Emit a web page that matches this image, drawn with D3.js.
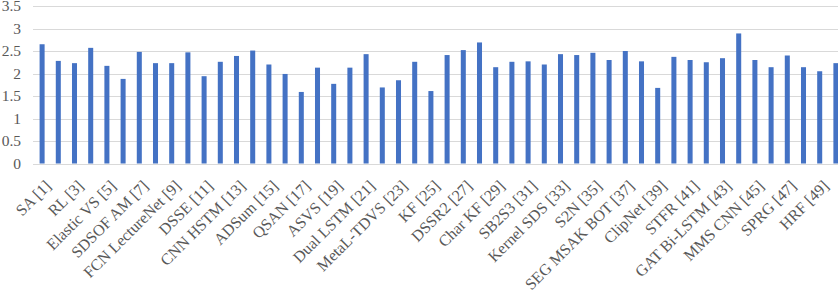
<!DOCTYPE html>
<html>
<head>
<meta charset="utf-8">
<script src="https://cdn.jsdelivr.net/npm/d3@7"></script>
<style>
  body { margin: 0; background: #fff; }
  svg { display: block; font-family: 'Liberation Serif', 'Times New Roman', serif; }
</style>
</head>
<body>
<svg id="chart" width="838" height="292"></svg>
<script>
// tick labels, one for every other method (odd reference numbers)
const labels = [
  'SA [1]', 'RL [3]', 'Elastic VS [5]', 'SDSOF AM [7]', 'FCN LectureNet [9]',
  'DSSE [11]', 'CNN HSTM [13]', 'ADSum [15]', 'QSAN [17]', 'ASVS [19]',
  'Dual LSTM [21]', 'MetaL-TDVS [23]', 'KF [25]', 'DSSR2 [27]', 'Char KF [29]',
  'SB2S3 [31]', 'Kernel SDS [33]', 'S2N [35]', 'SEG MSAK BOT [37]', 'ClipNet [39]',
  'STFR [41]', 'GAT Bi-LSTM [43]', 'MMS CNN [45]', 'SPRG [47]', 'HRF [49]'
]

// one value per method [1]..[50]
const values = [
  2.65, 2.28, 2.23, 2.57, 2.17, 1.88, 2.48, 2.23, 2.23, 2.47,
  1.94, 2.26, 2.39, 2.51, 2.20, 1.99, 1.59, 2.13, 1.77, 2.13,
  2.43, 1.69, 1.85, 2.26, 1.61, 2.41, 2.52, 2.69, 2.14, 2.26,
  2.27, 2.20, 2.43, 2.41, 2.46, 2.30, 2.50, 2.27, 1.68, 2.37,
  2.30, 2.25, 2.34, 2.89, 2.30, 2.14, 2.40, 2.14, 2.05, 2.23
]

const yTicks = [0, 0.5, 1, 1.5, 2, 2.5, 3, 3.5]

const svg = d3.select('#chart')
const plotLeft = 33
const plotTop = 6
const plotBottom = 163.5

let x = d3.scaleBand()
  .domain(values.map((d, i) => i))
  .range([34, 844])
  .paddingInner(0.69)
  .paddingOuter(0.345)

let y = d3.scaleLinear().domain([0, 3.5]).range([plotBottom, plotTop])

// gridlines
svg.append('g')
  .selectAll('line')
  .data(yTicks)
  .enter()
  .append('line')
  .attr('x1', plotLeft)
  .attr('x2', 838)
  .attr('y1', (d) => Math.round(y(d)) + 0.5)
  .attr('y2', (d) => Math.round(y(d)) + 0.5)
  .attr('stroke', '#d9d9d9')
  .attr('stroke-width', 1)

// y labels
svg.append('g')
  .selectAll('text')
  .data(yTicks)
  .enter()
  .append('text')
  .attr('x', 21)
  .attr('y', (d) => y(d))
  .attr('dy', '0.33em')
  .attr('text-anchor', 'end')
  .attr('font-size', 15.5)
  .attr('fill', '#595959')
  .text((d) => d)

// bars
svg.append('g')
  .selectAll('rect')
  .data(values)
  .enter()
  .append('rect')
  .attr('x', (d, i) => x(i))
  .attr('y', (d) => y(d))
  .attr('width', x.bandwidth())
  .attr('height', (d) => plotBottom - y(d))
  .attr('fill', '#4472c4')

// x labels, every other category
svg.append('g')
  .selectAll('text')
  .data(labels)
  .enter()
  .append('text')
  .attr('transform', (d, i) => {
    let cx = x(i * 2) + x.bandwidth() / 2 + 10
    return 'translate(' + cx + ',' + 187 + ')rotate(-45)'
  })
  .attr('text-anchor', 'end')
  .attr('font-size', 16)
  .attr('fill', '#595959')
  .text((d) => d)
</script>
</body>
</html>
